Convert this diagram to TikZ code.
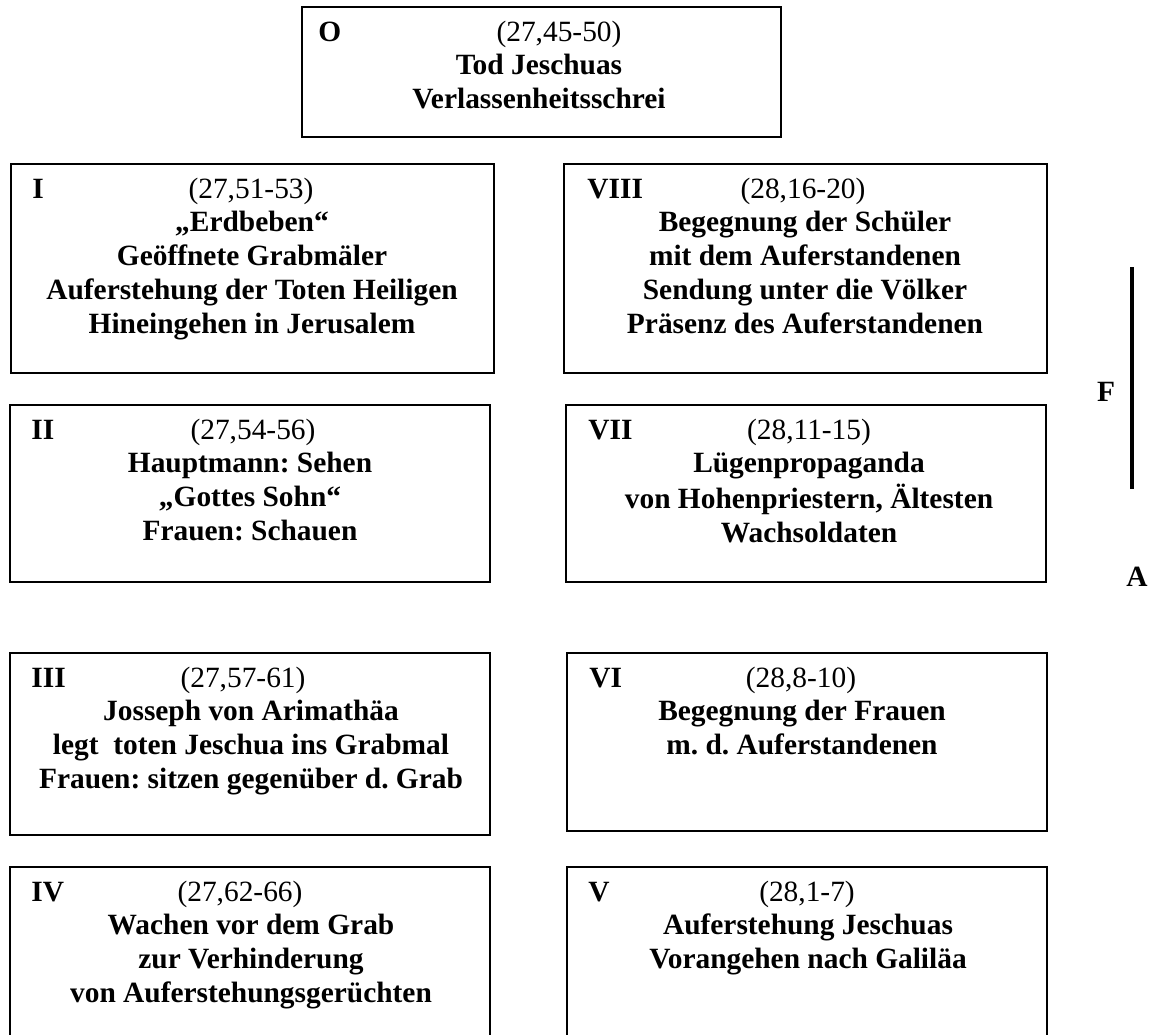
\documentclass[tikz,border=0pt]{standalone}
\usepackage{fontspec}
\setmainfont{Liberation Serif}
\usepackage{tikz}

\begin{document}
\fontsize{14.7}{17}\selectfont\frenchspacing
\begin{tikzpicture}[x=0.5pt, y=-0.5pt,
    kasten/.style={line width=1pt},
    nummer/.style={anchor=base west, inner sep=0pt, font=\bfseries},
    stelle/.style={anchor=base, inner sep=0pt},
    inhalt/.style={anchor=north, inner sep=0pt, align=center, font=\bfseries}]

\useasboundingbox (0,0) rectangle (1155,1034);

% ============================================
% O. TOD
% ============================================
\begin{scope}[shift={(302,7)}]
    \draw[kasten] (0,0) rectangle (479,130);
    \node[nummer] (numO) at (16,34) {O};
    \node[stelle] (refO) at (257,34) {(27,45-50)};
    \node[inhalt] (txtO) at (237,43) {\strut Tod Jeschuas\\Verlassenheitsschrei};
\end{scope}

% ============================================
% I. ERDBEBEN
% ============================================
\begin{scope}[shift={(11,164)}]
    \draw[kasten] (0,0) rectangle (483,209);
    \node[nummer] (numI) at (21,34) {I};
    \node[stelle] (refI) at (240,34) {(27,51-53)};
    \node[inhalt] (txtI) at (241,43) {\strut „Erdbeben“\\Geöffnete Grabmäler\\Auferstehung der Toten Heiligen\\Hineingehen in Jerusalem};
\end{scope}

% ============================================
% VIII. SENDUNG
% ============================================
\begin{scope}[shift={(564,164)}]
    \draw[kasten] (0,0) rectangle (483,209);
    \node[nummer] (numVIII) at (23,34) {VIII};
    \node[stelle] (refVIII) at (239,34) {(28,16-20)};
    \node[inhalt] (txtVIII) at (241,43) {\strut Begegnung der Schüler\\mit dem Auferstandenen\\Sendung unter die Völker\\Präsenz des Auferstandenen};
\end{scope}

% ============================================
% II. HAUPTMANN
% ============================================
\begin{scope}[shift={(10,405)}]
    \draw[kasten] (0,0) rectangle (480,177);
    \node[nummer] (numII) at (21,34) {II};
    \node[stelle] (refII) at (243,34) {(27,54-56)};
    \node[inhalt] (txtII) at (240,43) {\strut Hauptmann: Sehen\\„Gottes Sohn“\\Frauen: Schauen};
\end{scope}

% ============================================
% VII. LUEGE
% ============================================
\begin{scope}[shift={(566,405)}]
    \draw[kasten] (0,0) rectangle (480,177);
    \node[nummer] (numVII) at (22,34) {VII};
    \node[stelle] (refVII) at (243,34) {(28,11-15)};
    \node[inhalt] (txtVII) at (243,43) {\strut Lügenpropaganda\\von Hohenpriestern, Ältesten\\Wachsoldaten};
\end{scope}

% ============================================
% III. GRABLEGUNG
% ============================================
\begin{scope}[shift={(10,653)}]
    \draw[kasten] (0,0) rectangle (480,182);
    \node[nummer] (numIII) at (21,34) {III};
    \node[stelle] (refIII) at (233,34) {(27,57-61)};
    \node[inhalt] (txtIII) at (241,43) {\strut Josseph von Arimathäa\\legt\ \ toten Jeschua ins Grabmal\\Frauen: sitzen gegenüber d. Grab};
\end{scope}

% ============================================
% VI. FRAUEN
% ============================================
\begin{scope}[shift={(567,653)}]
    \draw[kasten] (0,0) rectangle (480,178);
    \node[nummer] (numVI) at (22,34) {VI};
    \node[stelle] (refVI) at (234,34) {(28,8-10)};
    \node[inhalt] (txtVI) at (235,43) {\strut Begegnung der Frauen\\m. d. Auferstandenen};
\end{scope}

% ============================================
% IV. WACHE
% ============================================
\begin{scope}[shift={(10,867)}]
    \draw[kasten] (0,0) rectangle (480,175);
    \node[nummer] (numIV) at (21,34) {IV};
    \node[stelle] (refIV) at (230,34) {(27,62-66)};
    \node[inhalt] (txtIV) at (241,43) {\strut Wachen vor dem Grab\\zur Verhinderung\\von Auferstehungsgerüchten};
\end{scope}

% ============================================
% V. AUFERSTEHUNG
% ============================================
\begin{scope}[shift={(567,867)}]
    \draw[kasten] (0,0) rectangle (480,175);
    \node[nummer] (numV) at (21,34) {V};
    \node[stelle] (refV) at (240,34) {(28,1-7)};
    \node[inhalt] (txtV) at (241,43) {\strut Auferstehung Jeschuas\\Vorangehen nach Galiläa};
\end{scope}

% ============================================
% F / A
% ============================================
\coordinate (Foben) at (1132,267);
\coordinate (Funten) at (1132,489);
\draw[line width=2.3pt] (Foben) -- (Funten);
\node[font=\bfseries] (F) at (1106,392) {F};
\node[font=\bfseries] (A) at (1137,577) {A};

\end{tikzpicture}
\end{document}
